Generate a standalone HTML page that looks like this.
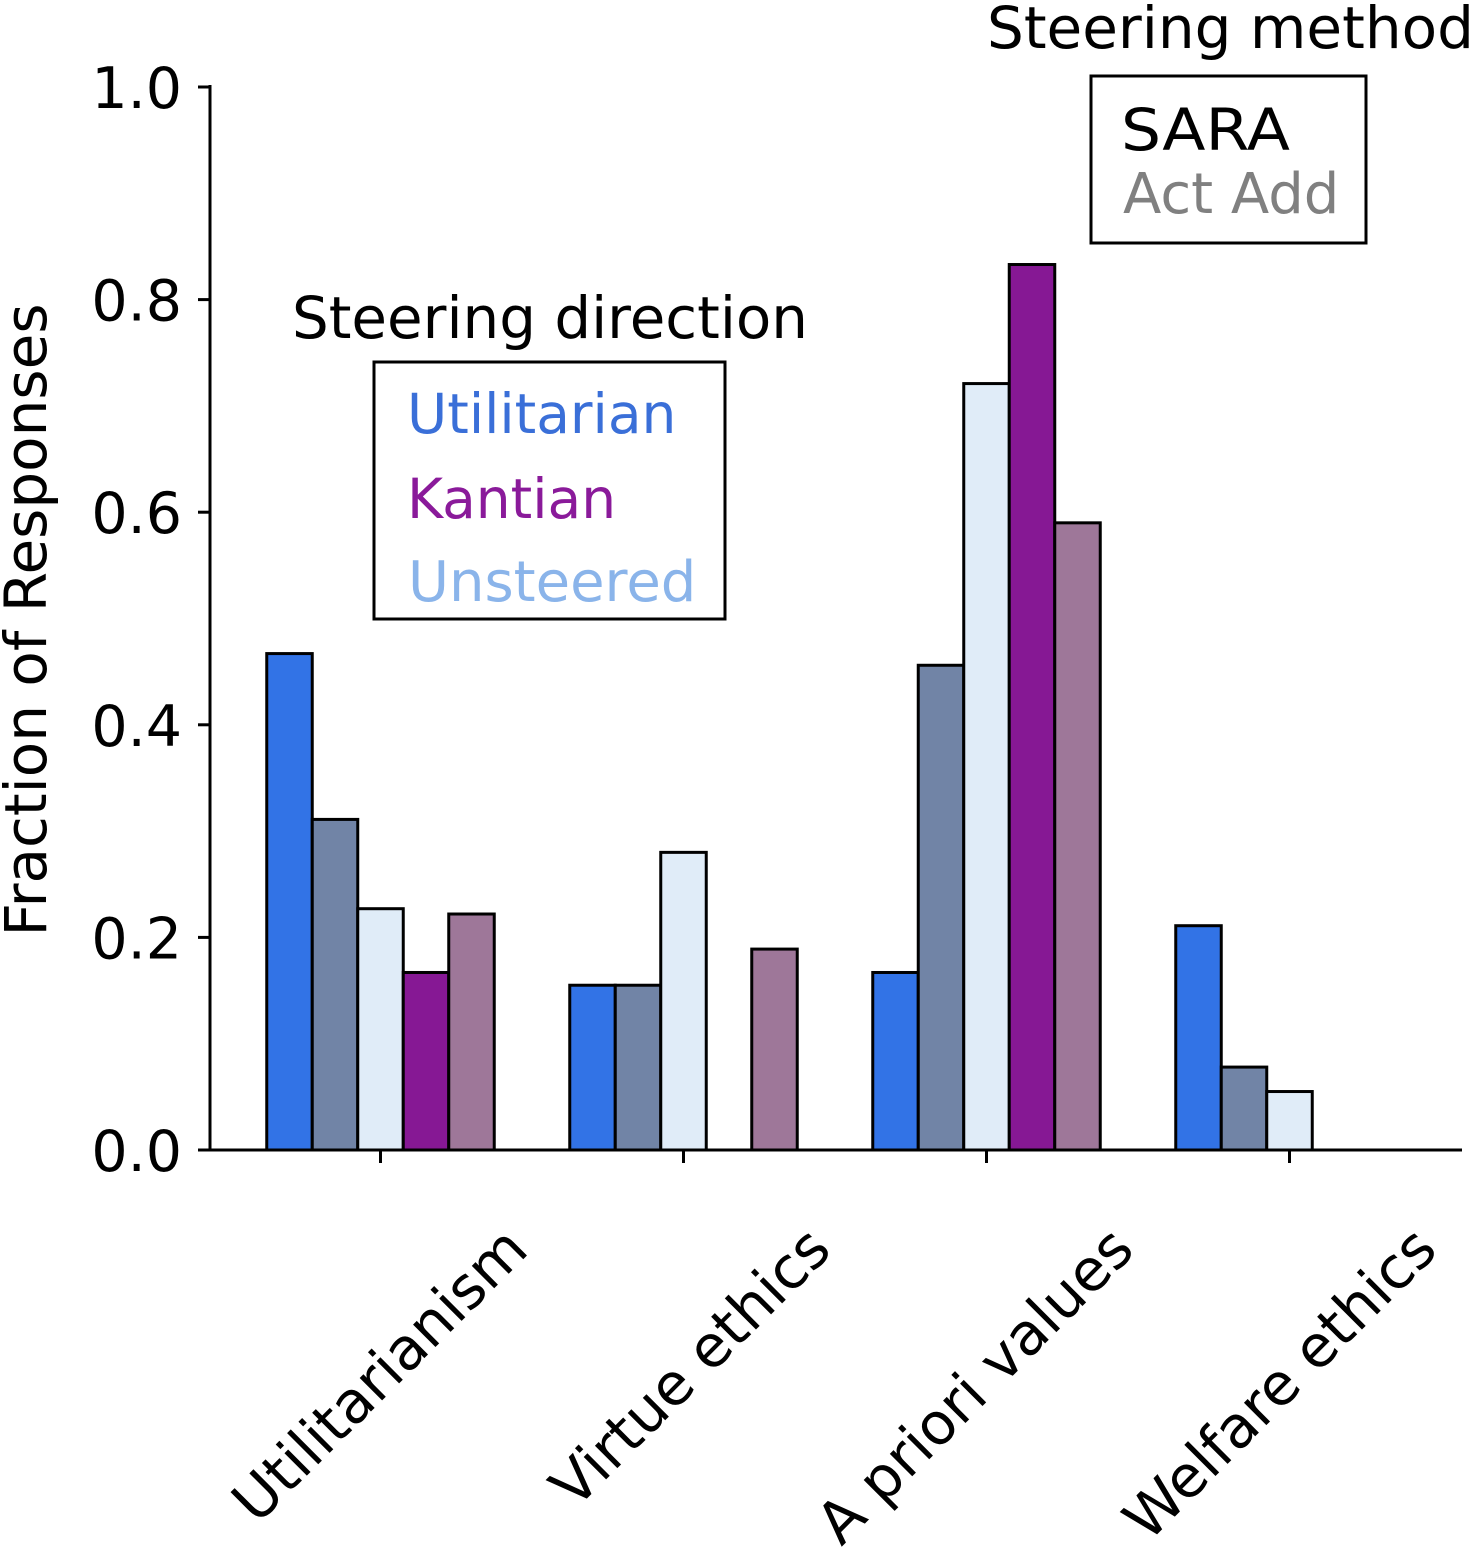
<!DOCTYPE html>
<html><head><meta charset="utf-8"><style>
html,body{margin:0;padding:0;background:#fff;overflow:hidden;}
svg{display:block;font-family:"DejaVu Sans","Liberation Sans",sans-serif;}
</style></head><body>
<svg id="chart" width="1470" height="1549" viewBox="0 0 1470 1549" xmlns="http://www.w3.org/2000/svg">
<g id="bars"></g>
<g id="axes"></g>
<text transform="translate(46,620) rotate(-90)" text-anchor="middle" font-size="58" fill="#000">Fraction of Responses</text>
<g>
<text x="292" y="338" font-size="58" fill="#000" textLength="516" lengthAdjust="spacingAndGlyphs">Steering direction</text>
<rect x="374" y="362" width="351" height="257" fill="#fff" stroke="#000" stroke-width="3"/>
<text x="407" y="433" font-size="55" fill="#3a6fd8">Utilitarian</text>
<text x="407" y="518" font-size="55" fill="#8a1a9a">Kantian</text>
<text x="408" y="601" font-size="56" fill="#8ab4ea">Unsteered</text>
</g>
<g>
<text x="987" y="48" font-size="58" fill="#000">Steering method</text>
<rect x="1091" y="76" width="275" height="167" fill="#fff" stroke="#000" stroke-width="3"/>
<text x="1121" y="150" font-size="58" fill="#000" textLength="169" lengthAdjust="spacingAndGlyphs">SARA</text>
<text x="1123" y="213" font-size="56" fill="#808080">Act Add</text>
</g>
</svg>
<script>
const categories = ["Utilitarianism","Virtue ethics","A priori values","Welfare ethics"];
const utilSara = [0.467, 0.155, 0.167, 0.211];
const utilActAdd = [0.311, 0.155, 0.456, 0.078];
const unsteered = [0.227, 0.280, 0.721, 0.055];
const kantSara = [0.167, 0, 0.833, 0];
const kantActAdd = [0.222, 0.189, 0.590, 0];
const yTicks = ["0.0","0.2","0.4","0.6","0.8","1.0"];
const seriesList = [
 {name:"utilitarian-sara", vals:utilSara, color:"#3273e6"},
 {name:"utilitarian-actadd", vals:utilActAdd, color:"#7184a6"},
 {name:"unsteered", vals:unsteered, color:"#e0ecf8"},
 {name:"kantian-sara", vals:kantSara, color:"#861894"},
 {name:"kantian-actadd", vals:kantActAdd, color:"#9e7799"}
];
const NS="http://www.w3.org/2000/svg";
const y0=1150, yTop=87;
const yScale=v=>y0-v*(y0-yTop);
const xCenter=i=>380.5+i*303;
const bw=45.5;
const barsG=document.getElementById('bars');
const axesG=document.getElementById('axes');
seriesList.forEach((s,si)=>{
 s.vals.forEach((v,ci)=>{
  if(v<=0) return;
  const r=document.createElementNS(NS,'rect');
  const x=xCenter(ci)-113.75+si*bw;
  r.setAttribute('x',x);r.setAttribute('y',yScale(v));
  r.setAttribute('width',bw);r.setAttribute('height',y0-yScale(v));
  r.setAttribute('fill',s.color);r.setAttribute('stroke','#000');r.setAttribute('stroke-width','3');
  
  
  barsG.appendChild(r);
 });
});
function line(x1,y1,x2,y2,name){
 const l=document.createElementNS(NS,'line');
 l.setAttribute('x1',x1);l.setAttribute('y1',y1);l.setAttribute('x2',x2);l.setAttribute('y2',y2);
 l.setAttribute('stroke','#000');l.setAttribute('stroke-width','3');
 
 
 axesG.appendChild(l);
}
line(210,yTop-2,210,y0+1,'y-axis-line');
line(208,y0,1462,y0,'x-axis-line');
yTicks.forEach((t,i)=>{
 const v=parseFloat(t);
 line(198,yScale(v),210,yScale(v),'y-tick');
 const tx=document.createElementNS(NS,'text');
 tx.setAttribute('x',182);tx.setAttribute('y',yScale(v)+21);
 tx.setAttribute('text-anchor','end');tx.setAttribute('font-size','57');
 tx.textContent=t;
 
 
 axesG.appendChild(tx);
});
categories.forEach((c,i)=>{
 const x=xCenter(i);
 line(x,y0,x,y0+13,'x-tick');
 const tx=document.createElementNS(NS,'text');
 tx.setAttribute('transform','translate('+(x+150)+',1252) rotate(-45)');
 tx.setAttribute('text-anchor','end');tx.setAttribute('font-size','58');
 tx.textContent=c;
 
 
 axesG.appendChild(tx);
});
</script>
</body></html>
